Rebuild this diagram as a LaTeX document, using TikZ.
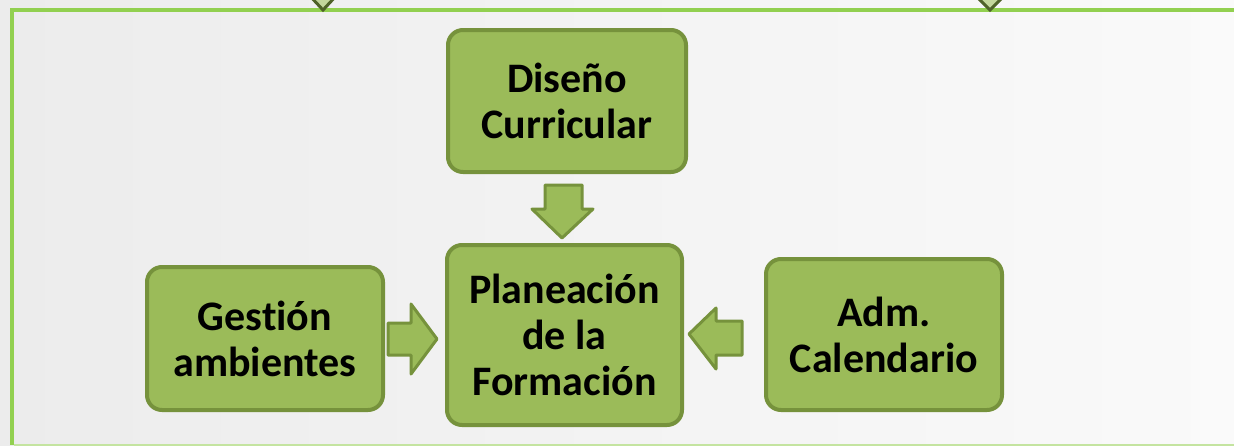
\documentclass[tikz,border=0pt]{standalone}
\usepackage{fontspec}
\setmainfont{Carlito}[Ligatures=NoCommon]
\definecolor{boxfill}{HTML}{9BBB59}
\definecolor{boxline}{HTML}{76923C}
\definecolor{frame}{HTML}{92D050}
\definecolor{framelight}{HTML}{C4E4A0}
\definecolor{chevfill}{HTML}{C3D69B}
\definecolor{chevline}{HTML}{4F6228}
\definecolor{bgl}{HTML}{ECECEC}
\definecolor{bgr}{HTML}{FAFAFA}
\tikzset{
  gbox/.style={draw=boxline, fill=boxfill, line width=4pt, rounded corners=15pt,
    align=center, inner sep=0pt, font=\bfseries\fontsize{42}{46}\selectfont},
  barrow/.style={draw=boxline, fill=boxfill, line width=3pt, line join=round},
  chev/.style={draw=chevline, fill=chevfill, line width=3pt, line join=miter}
}
\begin{document}
\begin{tikzpicture}[x=1pt,y=-1pt]
\useasboundingbox (0,0) rectangle (1234,445);
\shade[left color=bgl, right color=bgr] (0,0) rectangle (1234,445);
\begin{scope}
\clip (0,0) rectangle (1234,445);
% frame
\draw[frame, line width=4.5pt] (12,445) -- (12,10) -- (1250,10);
\draw[framelight, line width=3pt] (14,445) -- (1250,445);
% top chevrons (cut off)
\draw[chev] (310,-4) -- (323,10) -- (336,-4);
\draw[chev] (976,-4) -- (990,10) -- (1004,-4);
\end{scope}
% boxes
\node[gbox, minimum width=238pt, minimum height=142pt] (dc) at (567,101) {Diseño\\Curricular};
\node[gbox, minimum width=235pt, minimum height=180pt] (pf) at (564.5,335) {Planeación\\de la\\Formación};
\node[gbox, minimum width=236pt, minimum height=143pt] (ga) at (265,338.5) {Gestión\\ambientes};
\node[gbox, minimum width=236pt, minimum height=151pt] (ac) at (884,334.5) {Adm.\\Calendario};
% block arrows
\draw[barrow] (545,185) -- (582,185) -- (582,209) -- (593,209) -- (562,238) -- (532,209) -- (545,209) -- cycle;
\draw[barrow] (388,323) -- (411,323) -- (411,304) -- (437,339) -- (411,374) -- (411,355) -- (388,355) -- cycle;
\draw[barrow] (742,321) -- (716,321) -- (716,308) -- (689,334) -- (716,369) -- (716,355) -- (742,355) -- cycle;
\end{tikzpicture}
\end{document}
